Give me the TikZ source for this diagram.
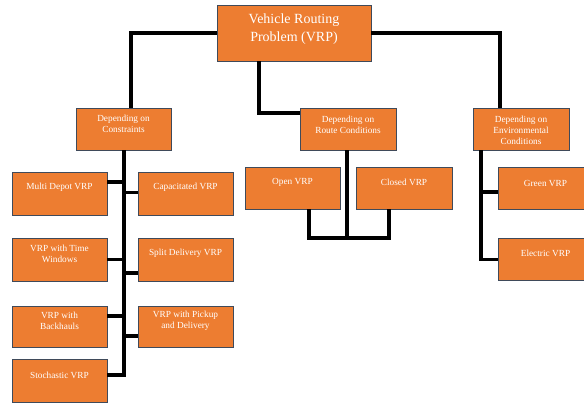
\documentclass[tikz,border=0pt]{standalone}
\usepackage{fontspec}
\setmainfont{Liberation Serif}
\definecolor{vorange}{HTML}{ED7D31}
\definecolor{vborder}{HTML}{3F4A5A}
\newcommand\mkbox[7]{%
  \node[box, minimum width={(#4-#2)*1pt}, minimum height={(#5-#3)*1pt}] (#1) at ({(#2+#4)/2},{(#3+#5)/2}) {};
  \node[lbl] (#1t) at ([yshift=-#6pt]#1.north) {#7};}
\begin{document}
\begin{tikzpicture}[x=1pt,y=-1pt,
  box/.style={draw=vborder, line width=0.9pt, fill=vorange, inner sep=0pt},
  lbl/.style={text=white, align=center, inner sep=0pt, font=\fontsize{9.3}{11}\selectfont},
  biglbl/.style={text=white, align=center, inner sep=0pt, font=\fontsize{14}{18}\selectfont},
  conn/.style={draw=black, line width=3.2pt}]
\useasboundingbox (0,0) rectangle (584,405);
% boxes
\node[box, minimum width=154pt, minimum height=56pt] (top) at (294,33) {};
\node[biglbl] (topt) at ([yshift=-25pt]top.north) {Vehicle Routing\\Problem (VRP)};
\mkbox{cons}{76}{108}{171}{150}{16.5}{Depending on\\Constraints}
\mkbox{route}{300}{108}{396}{150}{17.5}{Depending on\\Route Conditions}
\mkbox{env}{473}{108}{569}{150}{22.5}{Depending on\\Environmental\\Conditions}
\mkbox{md}{12}{172}{107}{215}{16}{Multi Depot VRP}
\mkbox{cap}{138}{172}{233}{215}{16}{Capacitated  VRP}
\mkbox{tw}{12}{238}{107}{281}{16}{VRP with Time\\Windows}
\mkbox{sd}{138}{238}{233}{281}{16}{Split Delivery VRP}
\mkbox{bh}{12}{306}{107}{347}{15.5}{VRP with\\Backhauls}
\mkbox{pd}{138}{306}{233}{347}{15.5}{VRP with Pickup\\and Delivery}
\mkbox{st}{12}{359}{107}{402}{17}{Stochastic VRP}
\mkbox{open}{245}{167}{340}{209}{16}{Open VRP}
\mkbox{closed}{356}{167}{452}{209}{16}{Closed VRP}
\mkbox{green}{498}{167}{593}{209}{17}{Green VRP}
\mkbox{elec}{498}{238}{593}{280}{16}{Electric VRP}
% connector coordinates
\coordinate (cl) at (131,0);
\coordinate (cr) at (500,0);
\coordinate (cm) at (259,0);
\coordinate (cmy) at (0,113);
\coordinate (ct) at (124,0);
\coordinate (rb) at (347,238);
\coordinate (ol) at (309,0);
\coordinate (cl2) at (389,0);
\coordinate (et) at (481,0);
\coordinate (stp) at ([yshift=5.5pt]st.east);
\coordinate (mdp) at ([yshift=11.5pt]md.east);
\coordinate (capp) at ([yshift=1pt]cap.west);
\coordinate (sdp) at ([yshift=-13.5pt]sd.west);
\coordinate (bhp) at ([yshift=10.5pt]bh.east);
\coordinate (pdp) at ([yshift=-9.5pt]pd.west);
\coordinate (elp) at ([yshift=-0.5pt]elec.west);
\coordinate (grp) at ([yshift=-4pt]green.west);
% top level
\draw[conn] (top.west) -| (cl |- cons.north);
\draw[conn] (top.east) -| (cr |- env.north);
\draw[conn] (cm |- top.south) |- (route.west |- cmy);
% constraints
\draw[conn] (ct |- cons.south) |- (stp);
\draw[conn] (mdp) -- (ct |- mdp);
\draw[conn] (ct |- capp) -- (capp);
\draw[conn] (tw.east) -- (ct |- tw.east);
\draw[conn] (ct |- sdp) -- (sdp);
\draw[conn] (bhp) -- (ct |- bhp);
\draw[conn] (ct |- pdp) -- (pdp);
% route conditions
\draw[conn] (rb |- route.south) -- (rb);
\draw[conn] (ol |- open.south) |- (rb) -| (cl2 |- closed.south);
% environmental
\draw[conn] (et |- env.south) |- (elp);
\draw[conn] (et |- grp) -- (grp);
\end{tikzpicture}
\end{document}
